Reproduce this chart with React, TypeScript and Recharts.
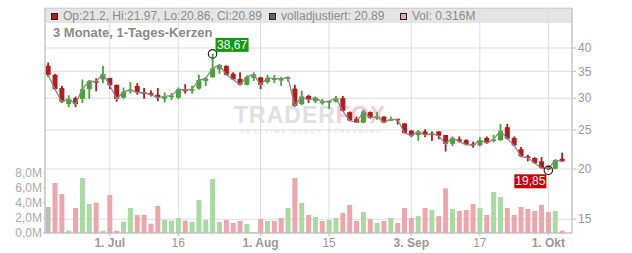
import React from "react"
import {
  Bar,
  CartesianGrid,
  Cell,
  ComposedChart,
  Line,
  ReferenceDot,
  XAxis,
  YAxis,
} from "recharts"

const dates = [
  "2019-06-18", "2019-06-19", "2019-06-20", "2019-06-21", "2019-06-24", "2019-06-25", "2019-06-26", "2019-06-27", "2019-06-28",
  "2019-07-01", "2019-07-02", "2019-07-03", "2019-07-05", "2019-07-08", "2019-07-09", "2019-07-10", "2019-07-11", "2019-07-12",
  "2019-07-15", "2019-07-16", "2019-07-17", "2019-07-18", "2019-07-19", "2019-07-22", "2019-07-23", "2019-07-24", "2019-07-25",
  "2019-07-26", "2019-07-29", "2019-07-30", "2019-07-31",
  "2019-08-01", "2019-08-02", "2019-08-05", "2019-08-06", "2019-08-07", "2019-08-08", "2019-08-09", "2019-08-12", "2019-08-13",
  "2019-08-14", "2019-08-15", "2019-08-16", "2019-08-19", "2019-08-20", "2019-08-21", "2019-08-22", "2019-08-23", "2019-08-26",
  "2019-08-27", "2019-08-28", "2019-08-29", "2019-08-30",
  "2019-09-03", "2019-09-04", "2019-09-05", "2019-09-06", "2019-09-09", "2019-09-10", "2019-09-11", "2019-09-12", "2019-09-13",
  "2019-09-16", "2019-09-17", "2019-09-18", "2019-09-19", "2019-09-20", "2019-09-23", "2019-09-24", "2019-09-25", "2019-09-26",
  "2019-09-27", "2019-09-30",
  "2019-10-01", "2019-10-02", "2019-10-03",
]

const opens = [
  36.1, 34.3, 31.8, 29.0, 30.0, 29.9, 31.6, 33.1, 33.4, 33.7,
  32.4, 30.1, 31.2, 32.2, 31.05, 30.9, 30.6, 29.9, 30.3, 30.1,
  31.5, 31.45, 31.7, 33.1, 33.8, 35.4, 36.1, 34.5, 33.5, 32.4,
  33.7, 33.8, 32.9, 33.55, 33.45, 33.5, 31.7, 29.0, 30.4, 29.5,
  29.35, 29.4, 29.4, 30.0, 27.7, 26.6, 26.1, 27.7, 26.95, 27.0,
  26.5, 26.65, 25.96, 24.9, 24.3, 24.8, 24.5, 24.8, 24.3, 23.1,
  23.7, 23.6, 23.1, 22.9, 23.9, 23.6, 23.6, 25.4, 23.9, 22.4,
  21.5, 21.3, 20.9, 20.15, 20.03, 21.2,
]
const highs = [
  36.8, 34.5, 32.2, 30.5, 30.3, 33.4, 33.3, 33.6, 36.1, 33.7,
  32.4, 31.9, 32.9, 32.7, 31.8, 31.4, 31.8, 31.0, 30.9, 31.9,
  32.5, 32.2, 34.3, 33.9, 38.67, 36.5, 36.2, 34.8, 34.8, 34.2,
  34.8, 33.9, 34.3, 34.3, 33.9, 34.0, 32.4, 31.3, 30.6, 30.3,
  29.9, 29.6, 30.4, 30.4, 27.8, 27.0, 28.1, 27.8, 27.7, 27.05,
  27.0, 26.7, 26.0, 25.0, 25.0, 25.1, 24.8, 24.8, 24.3, 24.1,
  24.1, 23.7, 23.4, 24.0, 24.1, 24.3, 25.9, 25.9, 24.1, 22.7,
  21.7, 21.4, 21.4, 20.4, 21.1, 21.97,
]
const lows = [
  33.9, 31.5, 29.2, 28.5, 28.5, 29.2, 29.9, 31.2, 32.7, 31.6,
  29.4, 29.9, 30.8, 30.6, 29.9, 30.3, 29.5, 29.3, 29.7, 29.9,
  30.8, 30.8, 31.5, 32.2, 33.8, 34.5, 34.2, 33.3, 32.3, 32.3,
  33.1, 31.6, 32.6, 32.7, 32.2, 33.0, 28.6, 28.85, 29.2, 29.2,
  28.9, 28.2, 29.3, 27.8, 26.3, 26.1, 26.0, 26.7, 26.5, 26.0,
  26.4, 25.8, 24.5, 24.0, 23.5, 24.0, 23.5, 23.7, 22.1, 22.8,
  23.3, 22.9, 22.6, 22.8, 23.1, 23.3, 23.5, 23.7, 22.8, 21.4,
  20.9, 20.6, 20.05, 19.85, 20.0, 20.86,
]
const closes = [
  34.3, 31.6, 29.4, 29.9, 29.0, 31.6, 33.1, 33.0, 34.5, 32.3,
  29.9, 31.1, 31.5, 31.0, 30.95, 30.6, 30.1, 30.3, 30.45, 31.6,
  31.45, 31.6, 33.3, 33.6, 35.6, 36.3, 34.3, 33.4, 32.4, 33.9,
  34.4, 32.4, 33.7, 33.6, 33.5, 33.8, 28.7, 30.3, 29.7, 30.1,
  29.4, 29.5, 30.0, 27.9, 26.4, 26.1, 27.8, 26.8, 27.0, 26.1,
  26.6, 26.55, 24.6, 24.2, 24.8, 24.3, 24.45, 24.2, 23.1, 23.9,
  23.4, 23.0, 22.9, 23.6, 23.2, 23.7, 24.9, 23.8, 22.9, 21.5,
  21.3, 20.7, 20.1, 20.05, 21.06, 20.89,
]
// Millionen Stueck
const volumes = [
  3.47, 6.67, 5.2, 0.31, 3.33, 7.33, 3.87, 4.04, 0.31, 5.07,
  0.31, 1.47, 3.33, 2.4, 2.4, 1.24, 3.6, 1.78, 1.64, 2.0,
  1.64, 1.47, 4.4, 1.73, 7.2, 1.47, 1.73, 1.33, 1.6, 1.2,
  0.13, 1.87, 1.6, 1.6, 2.0, 3.33, 7.33, 4.0, 2.4, 2.13,
  1.6, 1.73, 2.0, 2.67, 3.73, 1.6, 2.8, 1.87, 1.33, 1.6,
  2.0, 1.33, 3.33, 2.0, 2.27, 3.33, 3.07, 2.27, 5.96, 3.2,
  2.93, 3.07, 3.87, 3.33, 2.4, 5.47, 4.8, 3.33, 2.4, 3.47,
  3.2, 2.93, 3.73, 2.8, 2.93, 0.316,
]

const tickIdx = [9, 19, 31, 41, 53, 63, 73]
const tickLabels = ["1. Jul", "16", "1. Aug", "15", "3. Sep", "17", "1. Okt"]
const priceTicks = [15, 20, 25, 30, 35, 40]
const volTicks = [0, 2, 4, 6, 8]

const RED = "#b51b1b"
const GREEN = "#43a634"
const FONT = "Arial, 'Liberation Sans', sans-serif"

const data = dates.map((d, i) => ({
  i,
  date: d,
  open: opens[i],
  high: highs[i],
  low: lows[i],
  close: closes[i],
  range: [lows[i], highs[i]],
  volume: volumes[i],
}))

const hiVal = Math.max(...highs)
const hiIdx = highs.indexOf(hiVal)
const loVal = Math.min(...lows)
const loIdx = lows.indexOf(loVal)
const last = data[data.length - 1]

const fmt = (v: number) => v.toFixed(2).replace(".", ",")

function Candle(props: any) {
  const { x, width, payload } = props
  const y = Math.min(props.y, props.y + props.height)
  const h = Math.abs(props.height)
  const { open, close, high, low } = payload
  const span = Math.log(high) - Math.log(low)
  const yAt = (v: number) => (span > 0 ? y + (h * (Math.log(high) - Math.log(v))) / span : y)
  const color = close >= open ? GREEN : RED
  const cx = x + width / 2
  const top = yAt(Math.max(open, close))
  const bottom = yAt(Math.min(open, close))
  return (
    <g>
      <rect x={cx - 0.9} y={y} width={1.8} height={Math.max(h, 1)} fill={color} />
      <rect x={x} y={top} width={width} height={Math.max(bottom - top, 1.6)} fill={color} />
    </g>
  )
}

function DateTick({ x, y, payload }: any) {
  const label = tickLabels[tickIdx.indexOf(payload.value)] ?? ""
  return (
    <text x={x} y={y + 10} textAnchor="middle" fontSize={12} fontFamily={FONT}
      fontWeight={label.includes(".") ? "bold" : "normal"} fill="#999">
      {label}
    </text>
  )
}

function HighMarker({ cx, cy }: any) {
  return (
    <g>
      <circle cx={cx} cy={cy} r={4.2} fill="none" stroke="#222" strokeWidth={1.2} />
      <rect x={cx + 3} y={cy - 16} width={33} height={14} fill="#119b11" />
      <text x={cx + 19.5} y={cy - 5} textAnchor="middle" fontSize={12} fontFamily={FONT} fill="#fff">{fmt(hiVal)}</text>
    </g>
  )
}

function LowMarker({ cx, cy }: any) {
  return (
    <g>
      <circle cx={cx} cy={cy} r={4.2} fill="none" stroke="#222" strokeWidth={1.2} />
      <rect x={cx - 34} y={cy + 4} width={32} height={14} fill="#d10000" />
      <text x={cx - 18} y={cy + 15} textAnchor="middle" fontSize={12} fontFamily={FONT} fill="#fff">{fmt(loVal)}</text>
    </g>
  )
}

function Icon({ color }: { color: string }) {
  return (
    <span style={{ display: "inline-block", width: 5, height: 5, background: color, border: "1px solid #222", marginRight: 5, verticalAlign: "0px" }} />
  )
}

export default function App() {
  return (
    <div style={{ position: "relative", width: 632, height: 253, fontFamily: FONT, overflow: "hidden" }}>
      <style>{`body{margin:0}`}</style>
      <div style={{ position: "absolute", left: 45, top: 8, width: 527, height: 15, background: "#e5e5e5", borderTop: "1px solid #c8c8c8", boxSizing: "border-box" }} />
      <div style={{ position: "absolute", left: 234, top: 104, whiteSpace: "nowrap", pointerEvents: "none", lineHeight: 1 }}>
        <div>
          <span style={{ fontSize: 23, fontWeight: 900, color: "#e0e0e0", letterSpacing: 1 }}>TRADER</span>
          <span style={{ fontSize: 23, fontWeight: 900, color: "#f5cdd1", letterSpacing: 1 }}>FOX</span>
        </div>
        <div style={{ fontSize: 6, color: "#e8e8e8", letterSpacing: 2.2, marginTop: 1, marginLeft: 6, fontWeight: "bold" }}>REALTIME STOCK SCREENING</div>
      </div>
      <div style={{ position: "absolute", left: 0, top: 0 }}>
        <ComposedChart width={632} height={253} data={data} margin={{ top: 8, right: 0, bottom: 0, left: 0 }}>
          <CartesianGrid xAxisId="x" yAxisId="price" stroke="#dcdcdc" />
          <XAxis xAxisId="x" dataKey="i" type="number" domain={[-0.45, 76.45]} allowDataOverflow interval={0}
            ticks={tickIdx} tick={<DateTick />} height={20} tickSize={3} tickMargin={1}
            axisLine={{ stroke: "#bbb" }} tickLine={{ stroke: "#bbb" }} />
          <XAxis xAxisId="vx" dataKey="i" type="number" domain={[-0.45, 76.45]} allowDataOverflow hide height={0} />
          <YAxis yAxisId="vol" orientation="left" width={45} domain={[0, 30]} ticks={volTicks} allowDataOverflow interval={0}
            tickFormatter={(v: number) => v.toFixed(1).replace(".", ",") + "M"}
            tick={{ fontSize: 12, fill: "#aaa", fontFamily: FONT }} tickSize={2} tickMargin={1}
            axisLine={{ stroke: "#bbb" }} tickLine={{ stroke: "#bbb" }} />
          <YAxis yAxisId="price" orientation="right" width={60} scale="log" domain={[13.86, 50.3]} ticks={priceTicks} allowDataOverflow interval={0}
            tick={{ fontSize: 12, fill: "#999", fontFamily: FONT }} tickSize={4} tickMargin={2}
            axisLine={{ stroke: "#bbb" }} tickLine={{ stroke: "#bbb" }} />
          <Bar xAxisId="vx" yAxisId="vol" dataKey="volume" barSize={5} isAnimationActive={false}>
            {data.map((d, i) => (
              <Cell key={i} fill={i === 0 ? "#bdbdbd" : d.close >= data[i - 1].close ? "#a8dba2" : "#efa5ac"} />
            ))}
          </Bar>
          <Line xAxisId="x" yAxisId="price" dataKey="close" stroke="#8a8a8a" strokeWidth={1.3} dot={false} isAnimationActive={false} />
          <Bar xAxisId="x" yAxisId="price" dataKey="range" barSize={5} isAnimationActive={false}
            shape={(p: any) => <Candle {...p} />} />
          <ReferenceDot xAxisId="x" yAxisId="price" x={hiIdx} y={hiVal} r={4} shape={(p: any) => <HighMarker {...p} />} />
          <ReferenceDot xAxisId="x" yAxisId="price" x={loIdx} y={loVal} r={4} shape={(p: any) => <LowMarker {...p} />} />
        </ComposedChart>
      </div>
      <div style={{ position: "absolute", left: 51, top: 9, fontSize: 12, color: "#8a8a8a", lineHeight: "14px", whiteSpace: "nowrap" }}>
        <Icon color={RED} />
        {`Op:${last.open}, Hi:${last.high}, Lo:${last.low}, Cl:${last.close}`}
      </div>
      <div style={{ position: "absolute", left: 269, top: 9, fontSize: 12, color: "#8a8a8a", lineHeight: "14px", whiteSpace: "nowrap" }}>
        <Icon color="#666" />
        {`volladjustiert: ${last.close}`}
      </div>
      <div style={{ position: "absolute", left: 400, top: 9, fontSize: 12, color: "#8a8a8a", lineHeight: "14px", whiteSpace: "nowrap" }}>
        <Icon color="#efa5ac" />
        {`Vol: ${last.volume}M`}
      </div>
      <div style={{ position: "absolute", left: 53, top: 25, fontSize: 13, fontWeight: "bold", color: "#8a8a8a", lineHeight: "16px", whiteSpace: "nowrap" }}>
        3 Monate, 1-Tages-Kerzen
      </div>
    </div>
  )
}
